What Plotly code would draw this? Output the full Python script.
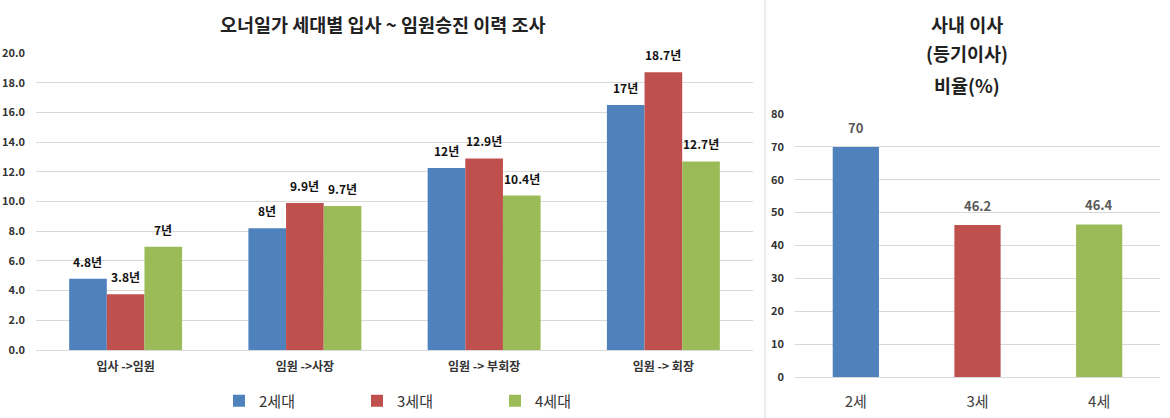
import plotly.graph_objects as go

# ---- data ----
categories = ["입사 ->임원", "임원 ->사장", "임원 -> 부회장", "임원 -> 회장"]
series_names = ["2세대", "3세대", "4세대"]
gen2_values = [4.8, 8.2, 12.25, 16.5]
gen3_values = [3.75, 9.9, 12.9, 18.7]
gen4_values = [6.95, 9.7, 10.4, 12.7]
gen2_labels = ["4.8년", "8년", "12년", "17년"]
gen3_labels = ["3.8년", "9.9년", "12.9년", "18.7년"]
gen4_labels = ["7년", "9.7년", "10.4년", "12.7년"]
left_ticks = [0, 2, 4, 6, 8, 10, 12, 14, 16, 18, 20]

right_categories = ["2세", "3세", "4세"]
right_values = [70, 46.2, 46.4]
right_labels = ["70", "46.2", "46.4"]
right_ticks = [0, 10, 20, 30, 40, 50, 60, 70, 80]

colors = ["#4F81BD", "#C0504D", "#9BBB59"]
FONT = "Noto Sans CJK KR"
W, H = 1170, 418

fig = go.Figure()

left_series = [gen2_values, gen3_values, gen4_values]
left_labels = [gen2_labels, gen3_labels, gen4_labels]
for name, vals, col in zip(series_names, left_series, colors):
    fig.add_trace(go.Bar(x=categories, y=vals, name=name, marker=dict(color=col, line=dict(width=0)),
                         xaxis="x", yaxis="y", hoverinfo="skip"))

fig.add_trace(go.Bar(x=right_categories, y=right_values, marker=dict(color=colors, line=dict(width=0)),
                     width=0.38, xaxis="x2", yaxis="y2", showlegend=False, hoverinfo="skip"))

# domains (pixel -> paper)
lx0, lx1 = 36 / W, 753 / W
ly0, ly1 = 1 - 350 / H, 1 - 53 / H
rx0, rx1 = 795 / W, 1160 / W
ry0, ry1 = 1 - 377 / H, 1 - 114 / H

bargap = 0.37
cat_px = (753 - 36) / len(categories)
bar_px = cat_px * (1 - bargap) / 3

annotations = []
for i, (vals, labs) in enumerate(zip(left_series, left_labels)):
    for c, v, t in zip(categories, vals, labs):
        annotations.append(dict(x=c, y=v, xref="x", yref="y", text=t, showarrow=False,
                                xshift=(i - 1) * bar_px, yshift=7, yanchor="bottom",
                                font=dict(family=FONT, size=12, color="#111111", weight="bold")))
for c, v, t in zip(right_categories, right_values, right_labels):
    annotations.append(dict(x=c, y=v, xref="x2", yref="y2", text=t, showarrow=False,
                            yshift=8, yanchor="bottom",
                            font=dict(family=FONT, size=13, color="#595959", weight="bold")))

# titles
annotations.append(dict(x=382 / W, y=1 - 24 / H, xref="paper", yref="paper",
                        text="오너일가 세대별 입사 ~ 임원승진 이력 조사", showarrow=False,
                        xanchor="center", yanchor="middle",
                        font=dict(family=FONT, size=18.5, color="#222222", weight="bold")))
for txt, ypx in zip(["사내 이사", "(등기이사)", "비율(%)"], [24, 53, 85]):
    annotations.append(dict(x=967 / W, y=1 - ypx / H, xref="paper", yref="paper",
                            text=txt, showarrow=False, xanchor="center", yanchor="middle",
                            font=dict(family=FONT, size=18.5, color="#222222", weight="bold")))

fig.update_layout(
    width=W, height=H,
    margin=dict(l=0, r=0, t=0, b=0, autoexpand=False),
    paper_bgcolor="white", plot_bgcolor="white",
    barmode="group", bargap=bargap, bargroupgap=0,
    font=dict(family=FONT, color="#333333"),
    showlegend=True,
    legend=dict(orientation="h", xref="container", yref="container",
                x=426 / W, y=1 - 401 / H, xanchor="center", yanchor="middle",
                font=dict(family=FONT, size=15, color="#333333"),
                entrywidth=93, entrywidthmode="pixels", itemwidth=30,
                bgcolor="rgba(0,0,0,0)"),
    xaxis=dict(domain=[lx0, lx1], anchor="y", showgrid=False, showline=False, zeroline=False,
               ticks="", ticklabelstandoff=8,
               tickfont=dict(family=FONT, size=12, color="#333333", weight="bold")),
    yaxis=dict(domain=[ly0, ly1], anchor="x", range=[0, 20], tickvals=left_ticks,
               tickformat=".1f", showgrid=True, gridcolor="#D9D9D9", gridwidth=1,
               zeroline=True, zerolinecolor="#D9D9D9", zerolinewidth=1, showline=False,
               ticks="", ticklabelstandoff=10,
               tickfont=dict(family=FONT, size=11, color="#333333", weight="bold")),
    xaxis2=dict(domain=[rx0, rx1], anchor="y2", showgrid=False, showline=False, zeroline=False,
                ticks="", ticklabelstandoff=14,
                tickfont=dict(family=FONT, size=15, color="#404040")),
    yaxis2=dict(domain=[ry0, ry1], anchor="x2", range=[0, 80], tickvals=right_ticks,
                showgrid=True, gridcolor="#D9D9D9", gridwidth=1,
                zeroline=True, zerolinecolor="#D9D9D9", zerolinewidth=1, showline=False,
                ticks="", ticklabelstandoff=10,
                tickfont=dict(family=FONT, size=11, color="#333333", weight="bold")),
    annotations=annotations,
    shapes=[dict(type="line", xref="paper", yref="paper", x0=765 / W, x1=765 / W, y0=0, y1=1,
                 line=dict(color="#D9D9D9", width=1))],
)

fig.write_html("out.html")
